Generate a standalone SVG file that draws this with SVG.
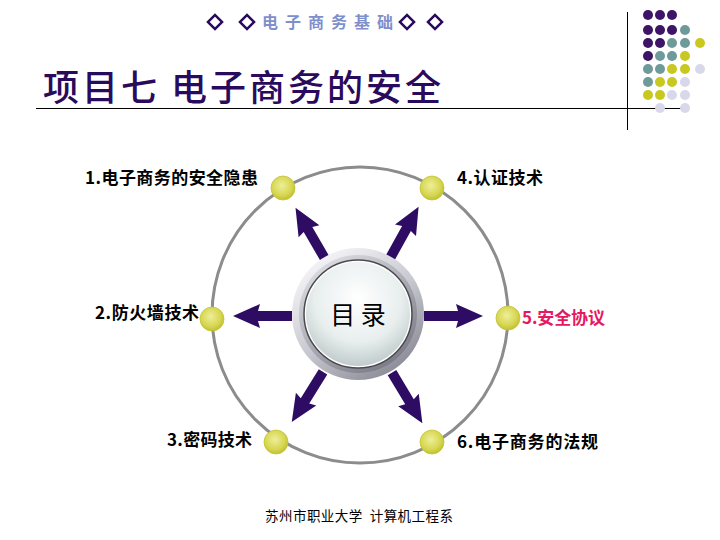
<svg xmlns="http://www.w3.org/2000/svg" xmlns:xlink="http://www.w3.org/1999/xlink" width="720" height="540" viewBox="0 0 720 540">
<style>
.lbl{font-family:"Noto Sans CJK SC","Liberation Sans",sans-serif;font-weight:bold;font-size:17px;fill:#000}
.dia{fill:none;stroke:#2a0a5c;stroke-width:2.5}
.dot{fill:url(#ydot);stroke:#c4c43a;stroke-width:0.8}
.arr{fill:#2f0c63}
.p{fill:#3d1466}.t{fill:#6f9a9a}.y{fill:#c8c820}.l{fill:#d8d8ea}
</style>
<defs>
<radialGradient id="ydot" cx="0.45" cy="0.4" r="0.6">
<stop offset="0" stop-color="#eeee9a"/>
<stop offset="0.7" stop-color="#d6d650"/>
<stop offset="1" stop-color="#c0c030"/>
</radialGradient>
<linearGradient id="outer" x1="0.2" y1="0.1" x2="0.8" y2="0.95">
<stop offset="0" stop-color="#f2f2f6"/>
<stop offset="0.5" stop-color="#c8c8d0"/>
<stop offset="1" stop-color="#8a8a96"/>
</linearGradient>
<linearGradient id="band" x1="0.2" y1="0.1" x2="0.8" y2="0.95">
<stop offset="0" stop-color="#d8d8de"/>
<stop offset="1" stop-color="#7a7a86"/>
</linearGradient>
<radialGradient id="inner" cx="0.5" cy="0.35" r="0.7">
<stop offset="0" stop-color="#ffffff"/>
<stop offset="0.6" stop-color="#e8eeee"/>
<stop offset="1" stop-color="#b8c4c4"/>
</radialGradient>
<path id="arrow" d="M66,-5 L100,-5 L98,-12 L125,0 L98,12 L100,5 L66,5 Z"/>
</defs>
<rect width="720" height="540" fill="#fff"/>

<g id="header">
<rect class="dia" x="210" y="17" width="10" height="10" transform="rotate(45 215 22)"/>
<rect class="dia" x="242" y="17" width="10" height="10" transform="rotate(45 247 22)"/>
<text x="262" y="28" font-family="'Noto Sans CJK SC','Liberation Sans',sans-serif" font-size="16" font-weight="bold" fill="#7f8fcc" textLength="131" lengthAdjust="spacing">电 子 商 务 基 础</text>
<rect class="dia" x="402" y="17" width="10" height="10" transform="rotate(45 407 22)"/>
<rect class="dia" x="430" y="17" width="10" height="10" transform="rotate(45 435 22)"/>
</g>

<g id="title">
<text x="43" y="101" font-family="'Noto Sans CJK SC',sans-serif" font-size="36" font-weight="500" fill="#2a0a5c" textLength="398" lengthAdjust="spacing">项目七 电子商务的安全</text>
<line x1="36" y1="108.5" x2="685" y2="108.5" stroke="#000" stroke-width="1"/>
<line x1="627.5" y1="12" x2="627.5" y2="130" stroke="#000" stroke-width="1"/>
</g>

<g id="dots">
<circle class="p" cx="648" cy="15" r="5"/><circle class="p" cx="660" cy="15" r="5"/><circle class="p" cx="672" cy="15" r="5"/>
<circle class="p" cx="648" cy="30" r="5"/><circle class="p" cx="660" cy="30" r="5"/><circle class="p" cx="672" cy="30" r="5"/><circle class="t" cx="685" cy="30" r="5"/>
<circle class="p" cx="648" cy="43" r="5"/><circle class="p" cx="660" cy="43" r="5"/><circle class="t" cx="672" cy="43" r="5"/><circle class="t" cx="685" cy="43" r="5"/><circle class="y" cx="700" cy="43" r="5"/>
<circle class="p" cx="648" cy="56" r="5"/><circle class="t" cx="660" cy="56" r="5"/><circle class="t" cx="672" cy="56" r="5"/><circle class="y" cx="685" cy="56" r="5"/>
<circle class="t" cx="648" cy="69" r="5"/><circle class="t" cx="660" cy="69" r="5"/><circle class="y" cx="672" cy="69" r="5"/><circle class="y" cx="685" cy="69" r="5"/><circle class="l" cx="700" cy="69" r="5"/>
<circle class="t" cx="648" cy="82" r="5"/><circle class="y" cx="660" cy="82" r="5"/><circle class="y" cx="672" cy="82" r="5"/><circle class="l" cx="685" cy="82" r="5"/>
<circle class="y" cx="648" cy="95" r="5"/><circle class="y" cx="660" cy="95" r="5"/><circle class="l" cx="672" cy="95" r="5"/><circle class="l" cx="685" cy="95" r="5"/>
<circle class="l" cx="660" cy="108" r="5"/><circle class="l" cx="685" cy="108" r="5"/>
</g>

<circle id="ring" cx="360" cy="315" r="148" fill="none" stroke="#8c8c8c" stroke-width="3"/>

<g id="connectors">
<use xlink:href="#arrow" class="arr" transform="translate(358 316) rotate(-120)"/>
<use xlink:href="#arrow" class="arr" transform="translate(358 316) rotate(-61)"/>
<use xlink:href="#arrow" class="arr" transform="translate(358 316) rotate(180)"/>
<use xlink:href="#arrow" class="arr" transform="translate(358 316)"/>
<use xlink:href="#arrow" class="arr" transform="translate(358 316) rotate(122)"/>
<use xlink:href="#arrow" class="arr" transform="translate(358 316) rotate(59)"/>
</g>

<g id="center">
<circle cx="358" cy="314" r="66" fill="url(#outer)"/>
<circle cx="358" cy="314" r="59" fill="url(#band)"/>
<circle cx="358" cy="314" r="54" fill="#fff" stroke="#4a4a50" stroke-width="1.5"/>
<circle cx="358" cy="314" r="52" fill="url(#inner)"/>
<text x="358" y="324" text-anchor="middle" font-family="'Noto Sans CJK SC',sans-serif" font-size="25" fill="#000">目 录</text>
</g>

<g id="n1"><circle class="dot" cx="283" cy="188" r="12"/><text class="lbl" x="85" y="184" textLength="173" lengthAdjust="spacing">1.电子商务的安全隐患</text></g>
<g id="n4"><circle class="dot" cx="432" cy="188" r="12"/><text class="lbl" x="457" y="184" textLength="86" lengthAdjust="spacing">4.认证技术</text></g>
<g id="n2"><circle class="dot" cx="212" cy="319" r="12"/><text class="lbl" x="95" y="319" textLength="104" lengthAdjust="spacing">2.防火墙技术</text></g>
<g id="n5"><circle class="dot" cx="508" cy="318" r="12"/><text class="lbl" x="522" y="324" textLength="83" lengthAdjust="spacing" style="fill:#e5195e">5.安全协议</text></g>
<g id="n3"><circle class="dot" cx="276" cy="442" r="12"/><text class="lbl" x="167" y="446" textLength="85" lengthAdjust="spacing">3.密码技术</text></g>
<g id="n6"><circle class="dot" cx="432" cy="442" r="12"/><text class="lbl" x="457" y="448" textLength="141" lengthAdjust="spacing">6.电子商务的法规</text></g>

<g id="footer">
<text x="265" y="521" font-family="'Noto Sans CJK SC',sans-serif" font-size="13.5" fill="#000" style="white-space:pre" textLength="188" lengthAdjust="spacing">苏州市职业大学  计算机工程系</text>
</g>
</svg>
